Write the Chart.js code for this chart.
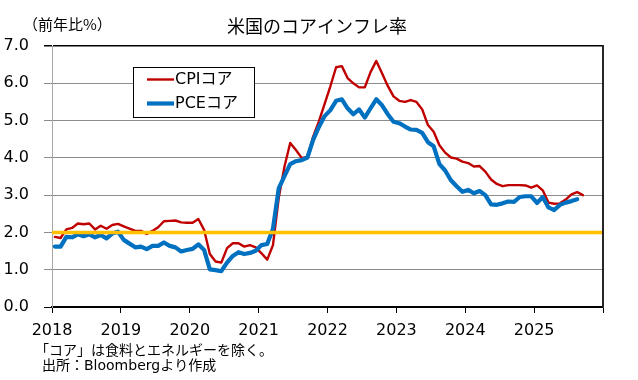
<!DOCTYPE html>
<html><head><meta charset="utf-8">
<script src="https://cdn.jsdelivr.net/npm/chart.js@4.4.1/dist/chart.umd.min.js"></script>
<style>html,body{margin:0;padding:0;background:#fff;}canvas{display:block;}</style>
</head><body>
<canvas id="c" width="638" height="380"></canvas>
<script>
const chartTitle = '米国のコアインフレ率';
const unitLabel = '（前年比%）';
const footnotes = ['「コア」は食料とエネルギーを除く。', '出所：Bloombergより作成'];
const yearLabels = ['2018', '2019', '2020', '2021', '2022', '2023', '2024', '2025'];
const seriesNames = ['CPIコア', 'PCEコア'];
// monthly values from Jan 2018
const cpiCore = [
  1.88, 1.85, 2.08, 2.12, 2.24, 2.22, 2.24, 2.08, 2.18, 2.10, 2.20, 2.23,
  2.16, 2.10, 2.04, 2.04, 1.96, 2.04, 2.14, 2.30, 2.31, 2.32, 2.27, 2.26,
  2.26, 2.36, 2.07, 1.42, 1.22, 1.19, 1.58, 1.71, 1.71, 1.62, 1.66, 1.60,
  1.44, 1.27, 1.66, 2.92, 3.76, 4.40, 4.21, 4.00, 4.02, 4.57, 4.98, 5.45,
  5.92, 6.43, 6.46, 6.14, 6.00, 5.89, 5.89, 6.30, 6.60, 6.27, 5.93, 5.65,
  5.53, 5.50, 5.55, 5.50, 5.30, 4.88, 4.70, 4.34, 4.14, 4.01, 3.98, 3.90,
  3.86, 3.77, 3.78, 3.63, 3.42, 3.30, 3.24, 3.27, 3.27, 3.27, 3.26, 3.20,
  3.26, 3.13, 2.80, 2.77, 2.78, 2.88, 3.02, 3.08, 3.00
];
const pceCore = [
  1.62, 1.62, 1.88, 1.87, 1.95, 1.90, 1.95, 1.87, 1.93, 1.84, 1.97, 2.02,
  1.80, 1.70, 1.60, 1.62, 1.55, 1.64, 1.64, 1.73, 1.64, 1.60, 1.49, 1.53,
  1.56, 1.68, 1.53, 1.01, 0.99, 0.96, 1.19, 1.37, 1.47, 1.42, 1.45, 1.51,
  1.66, 1.69, 2.10, 3.18, 3.51, 3.83, 3.91, 3.94, 4.01, 4.48, 4.83, 5.12,
  5.28, 5.53, 5.57, 5.33, 5.17, 5.30, 5.08, 5.33, 5.57, 5.41, 5.17, 4.97,
  4.93, 4.84, 4.76, 4.75, 4.67, 4.42, 4.31, 3.83, 3.66, 3.40, 3.24, 3.09,
  3.14, 3.05, 3.11, 3.00, 2.75, 2.74, 2.78, 2.83, 2.82, 2.95, 2.97, 2.97,
  2.79, 2.95, 2.67, 2.60, 2.74, 2.80, 2.84, 2.89
];
const targetLevel = 2.0;

const FONT = "'DejaVu Sans', 'Noto Sans CJK JP', sans-serif";
const JFONT = "'Noto Sans CJK JP', 'DejaVu Sans', sans-serif";
const monthsTotal = yearLabels.length * 12;
const toPoints = arr => arr.map((v, i) => ({ x: i + 0.5, y: v }));

const decor = {
  id: 'decor',
  afterDraw(chart) {
    const { ctx, chartArea: a } = chart;
    ctx.save();
    // right border of plot
    ctx.strokeStyle = '#262626';
    ctx.lineWidth = 2;
    ctx.beginPath(); ctx.moveTo(a.right, a.top - 1); ctx.lineTo(a.right, a.bottom); ctx.stroke();
    // title
    ctx.fillStyle = '#000';
    ctx.textBaseline = 'middle';
    ctx.textAlign = 'center';
    ctx.font = '18px ' + JFONT;
    ctx.fillText(chartTitle, 317, 26);
    // unit
    ctx.textAlign = 'left';
    ctx.font = '15px ' + JFONT;
    ctx.fillText(unitLabel, 23, 24);
    // footnotes
    ctx.font = '14px ' + FONT;
    ctx.fillText(footnotes[0], 35, 351);
    ctx.fillText(footnotes[1], 42, 366);
    // legend
    const lx = 133, ly = 67, lw = 121, lh = 50;
    ctx.fillStyle = '#fff';
    ctx.fillRect(lx, ly, lw, lh);
    ctx.strokeStyle = '#000';
    ctx.lineWidth = 1;
    ctx.strokeRect(lx + 0.5, ly + 0.5, lw, lh);
    const items = chart.data.datasets.filter(d => seriesNames.includes(d.label))
      .sort((p, q) => seriesNames.indexOf(p.label) - seriesNames.indexOf(q.label));
    items.forEach((d, k) => {
      const yy = ly + 12.5 + k * 24;
      ctx.strokeStyle = d.borderColor;
      ctx.lineWidth = d.borderWidth;
      ctx.lineCap = 'butt';
      ctx.beginPath(); ctx.moveTo(lx + 14, yy); ctx.lineTo(lx + 41, yy); ctx.stroke();
      ctx.fillStyle = '#000';
      ctx.font = '16px ' + FONT;
      ctx.textAlign = 'left';
      ctx.fillText(d.label, lx + 42, yy);
    });
    ctx.restore();
  }
};

new Chart(document.getElementById('c'), {
  type: 'line',
  data: {
    datasets: [
      { label: 'target', data: [{ x: 0, y: targetLevel }, { x: monthsTotal, y: targetLevel }],
        borderColor: '#FFC000', borderWidth: 3.5, pointRadius: 0, order: 0 },
      { label: seriesNames[1], data: toPoints(pceCore), borderColor: '#0070C0', borderWidth: 4.2,
        pointRadius: 0, tension: 0, borderJoinStyle: 'round', borderCapStyle: 'round', order: 1 },
      { label: seriesNames[0], data: toPoints(cpiCore), borderColor: '#C00000', borderWidth: 2.4,
        pointRadius: 0, tension: 0, borderJoinStyle: 'round', borderCapStyle: 'round', order: 2 }
    ]
  },
  options: {
    responsive: false,
    animation: false,
    devicePixelRatio: 1,
    layout: { padding: { top: 46, right: 35, bottom: 43, left: 0 } },
    plugins: { legend: { display: false }, tooltip: { enabled: false }, title: { display: false } },
    scales: {
      x: {
        type: 'linear', min: 0, max: monthsTotal,
        afterBuildTicks: s => { s.ticks = yearLabels.map((_, k) => ({ value: k * 12 })).concat([{ value: monthsTotal }]); },
        afterFit: s => { s.height = 30; },
        ticks: { autoSkip: false, maxRotation: 0, padding: 8, color: '#000', font: { family: FONT, size: 16 },
          callback: (v) => yearLabels[Math.round(v / 12)] || '' },
        grid: { drawOnChartArea: false, color: '#000', tickLength: 6 },
        border: { color: '#000', width: 1.5 }
      },
      y: {
        min: 0, max: 7,
        afterFit: s => { s.width = 52; },
        ticks: { stepSize: 1, padding: 15, color: '#000', font: { family: FONT, size: 16 },
          callback: v => Number(v).toFixed(1) },
        grid: { color: c => (c.tick && (c.tick.value === 7 || c.tick.value === 0)) ? '#000' : '#8c8c8c',
          lineWidth: c => (c.tick && c.tick.value === 7) ? 1.5 : 1, tickLength: 8 },
        border: { color: '#a6a6a6', width: 1 }
      }
    }
  },
  plugins: [decor]
});
</script>
</body></html>
